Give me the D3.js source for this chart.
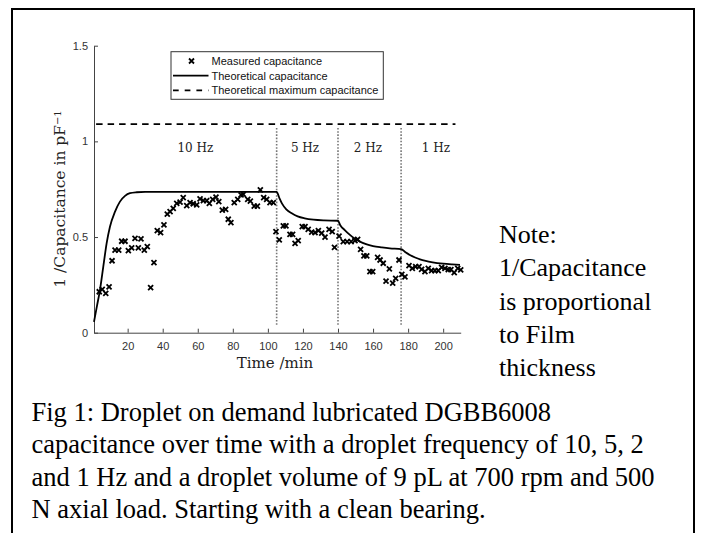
<!DOCTYPE html>
<html><head><meta charset="utf-8">
<script src="https://cdn.jsdelivr.net/npm/d3@7"></script>
<style>body{margin:0;background:#fff}svg{display:block}</style>
</head><body>
<svg id="c" width="704" height="533"></svg>
<script>
// ---------- data ----------
const measured = [
 [3.8,.214],[5.5,.227],[7.5,.206],[9.4,.24],[11.1,.376],[12.8,.432],[14.9,.432],[16.6,.478],[18.5,.478],
 [20.4,.429],[22.3,.443],[24.2,.493],[26.1,.443],[27.6,.49],[29.5,.432],[31.2,.45],[33.1,.235],[35,.366],
 [36.9,.533],[38.8,.523],[40.7,.563],[42.6,.62],[44.2,.633],[46,.65],[48,.676],[49.9,.682],[51.7,.706],
 [53.7,.664],[55.6,.68],[57.4,.674],[59.4,.668],[61.3,.699],[63.2,.69],[65.1,.69],[66.6,.676],[68.5,.697],
 [70.4,.708],[72,.685],[74,.641],[75.9,.645],[77.4,.593],[78.9,.575],[80.8,.68],[82.8,.697],[84.7,.72],
 [86,.723],[88.5,.697],[90,.688],[92.2,.662],[94,.662],[95.7,.746],[97.6,.706],[99.3,.697],[101.2,.68],
 [103.1,.68],[104.6,.528],[106.5,.485],[108.8,.558],[110.3,.558],[112.6,.514],[114.1,.514],[115.5,.467],
 [117.3,.481],[119.6,.554],[121.2,.554],[123,.54],[125,.526],[126.9,.523],[128.8,.533],[130.7,.52],
 [132.6,.499],[134.9,.54],[136.7,.528],[138,.446],[140.6,.505],[143,.476],[145.2,.476],[147.5,.476],
 [149.7,.481],[151.2,.488],[152.9,.436],[154.8,.401],[156.4,.401],[158.2,.319],[159.8,.319],[162.6,.394],
 [164,.38],[165.8,.363],[167.4,.27],[169.3,.333],[171.2,.259],[172.9,.284],[174.8,.38],[176.4,.305],
 [178.2,.292],[180.5,.35],[182.4,.336],[184.3,.345],[186.2,.345],[187.7,.331],[189.6,.319],[191.5,.336],
 [193.4,.324],[195.3,.324],[197.2,.324],[199.1,.342],[201,.336],[202.9,.33],[204.4,.33],[206.3,.314],
 [208.3,.336],[210,.328]
];
const theoretical = [
 [0.8,.057],[2.5,.14],[4.2,.223],[6.1,.345],[8,.467],[9.9,.554],[12.8,.633],[15.6,.685],[18.5,.715],
 [21.3,.729],[25.2,.734],[30,.736],[105,.736],[106.5,.705],[108,.676],[110.5,.645],[113.6,.624],[117,.608],
 [121,.598],[126,.591],[132,.587],[140,.585],[141.2,.563],[144,.535],[146.8,.511],[149.5,.492],[152.5,.476],
 [156,.463],[160,.453],[165,.446],[169.6,.441],[176,.437],[178.5,.42],[181,.406],[184,.393],[186.8,.383],
 [190,.375],[194,.368],[200,.361],[205,.357],[209.6,.354]
];
const maxCap = 1.09;
const maxCapRange = [2, 207];
const switchTimes = [105, 140, 176];
const freqLabels = ["10 Hz", "5 Hz", "2 Hz", "1 Hz"];
const freqLabelX = [58.6, 121.2, 157.1, 195.9];
const xTicks = [20,40,60,80,100,120,140,160,180,200];
const yTicks = [0,0.5,1,1.5];
const legendLabels = ["Measured capacitance","Theoretical capacitance","Theoretical maximum capacitance"];
const noteLines = ["Note:","1/Capacitance","is proportional","to Film","thickness"];
const captionLines = [
 "Fig 1: Droplet on demand lubricated DGBB6008",
 "capacitance over time with a droplet frequency of 10, 5, 2",
 "and 1 Hz and a droplet volume of 9 pL at 700 rpm and 500",
 "N axial load. Starting with a clean bearing."
];

// ---------- drawing ----------
const svg = d3.select("#c");
svg.append("rect").attr("x",12).attr("y",9).attr("width",682).attr("height",560)
  .attr("fill","none").attr("stroke","#000").attr("stroke-width",2);

const x = d3.scaleLinear().domain([0.8,210]).range([94,460.7]);
const y = d3.scaleLinear().domain([0,1.5]).range([332.7,45.7]);

// axes
const xa = svg.append("g").attr("transform",`translate(0,${y(0)})`)
  .call(d3.axisBottom(x).tickValues(xTicks).tickSizeInner(-4).tickSizeOuter(0).tickPadding(10).tickFormat(d3.format("d")));
const ya = svg.append("g").attr("transform",`translate(${x.range()[0]},0)`)
  .call(d3.axisLeft(y).tickValues(yTicks).tickSizeInner(-4).tickSizeOuter(0).tickPadding(6).tickFormat(d=>String(d)));
[xa,ya].forEach(a=>{
  a.selectAll("path,line").attr("stroke","#444");
  a.selectAll("text").attr("fill","#333").style("font-family","'Liberation Sans',Arial,sans-serif").style("font-size","11px");
});

// dotted switch lines
svg.append("g").selectAll("line").data(switchTimes).join("line")
  .attr("x1",d=>x(d)).attr("x2",d=>x(d)).attr("y1",y(1.07)).attr("y2",y(0.04))
  .attr("stroke","#777").attr("stroke-width",1.6).attr("stroke-dasharray","1.6,1.6");

// max dashed line
svg.append("line").attr("x1",x(maxCapRange[0])).attr("x2",x(maxCapRange[1]))
  .attr("y1",y(maxCap)).attr("y2",y(maxCap))
  .attr("stroke","#000").attr("stroke-width",1.8).attr("stroke-dasharray","6.5,5");

// theoretical line
svg.append("path").datum(theoretical)
  .attr("d",d3.line().x(d=>x(d[0])).y(d=>y(d[1])).curve(d3.curveMonotoneX))
  .attr("fill","none").attr("stroke","#000").attr("stroke-width",1.8);

// measured crosses
const cs = 2.5;
const cross = (g)=>{ g.append("path").attr("d",`M${-cs},${-cs}L${cs},${cs}M${-cs},${cs}L${cs},${-cs}`)
  .attr("stroke","#000").attr("stroke-width",1.8).attr("fill","none"); };
svg.append("g").selectAll("g").data(measured).join("g")
  .attr("transform",d=>`translate(${x(d[0])},${y(d[1])})`).each(function(){cross(d3.select(this));});

// frequency labels
svg.append("g").selectAll("text").data(freqLabels).join("text")
  .attr("x",(d,i)=>x(freqLabelX[i])).attr("y",y(0.965)).attr("dy","0.35em")
  .attr("text-anchor","middle").attr("fill","#222")
  .style("font-family","'DejaVu Serif',serif").style("font-size","12px").text(d=>d);

// axis titles
svg.append("text").attr("x",275).attr("y",368).attr("text-anchor","middle").attr("fill","#222")
  .style("font-family","'DejaVu Serif',serif").style("font-size","15px").text("Time /min");
const yl = svg.append("text").attr("transform","translate(65,199) rotate(-90)").attr("text-anchor","middle")
  .attr("fill","#222").style("font-family","'DejaVu Serif',serif").style("font-size","15.5px");
yl.append("tspan").text("1 /Capacitance in pF");
yl.append("tspan").attr("dy","-0.45em").style("font-size","10px").text("\u22121");

// legend
const lg = svg.append("g");
lg.append("rect").attr("x",171).attr("y",51.7).attr("width",212.3).attr("height",47.6)
  .attr("fill","#fff").attr("stroke","#333").attr("stroke-width",1);
const rowY = [61, 75.7, 90.3];
lg.append("g").attr("transform",`translate(191.5,${rowY[0]})`).call(cross);
lg.append("line").attr("x1",173).attr("x2",208.5).attr("y1",rowY[1]).attr("y2",rowY[1])
  .attr("stroke","#000").attr("stroke-width",1.8);
lg.append("line").attr("x1",173).attr("x2",208.5).attr("y1",rowY[2]).attr("y2",rowY[2])
  .attr("stroke","#000").attr("stroke-width",1.8).attr("stroke-dasharray","5.7,6");
lg.selectAll("text").data(legendLabels).join("text")
  .attr("x",211.5).attr("y",(d,i)=>rowY[i]).attr("dy","0.36em").attr("fill","#111")
  .style("font-family","'Liberation Sans',Arial,sans-serif").style("font-size","11px").text(d=>d);

// note
svg.append("g").selectAll("text").data(noteLines).join("text")
  .attr("x",499).attr("y",(d,i)=>243.3+33.1*i).attr("fill","#000")
  .style("font-family","'Liberation Serif','Times New Roman',serif").style("font-size","26px").text(d=>d);

// caption
svg.append("g").selectAll("text").data(captionLines).join("text")
  .attr("x",31.5).attr("y",(d,i)=>421+32.3*i).attr("fill","#000")
  .style("font-family","'Liberation Serif','Times New Roman',serif").style("font-size","26.5px").text(d=>d);
</script>
</body></html>
